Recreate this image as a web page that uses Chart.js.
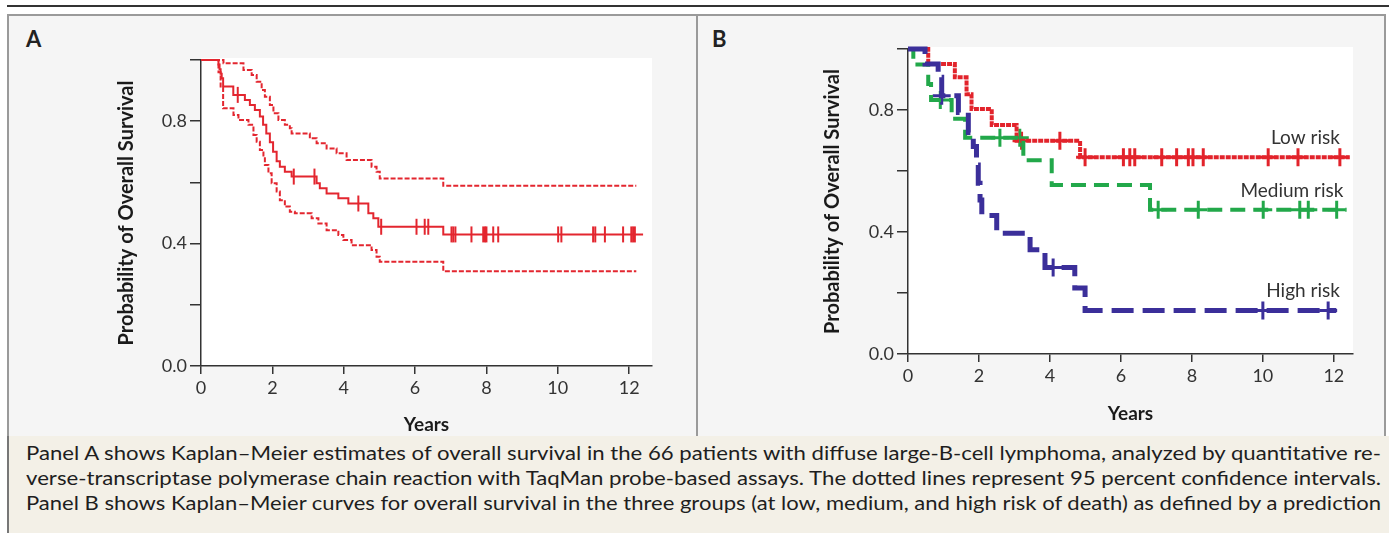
<!DOCTYPE html>
<html>
<head>
<meta charset="utf-8">
<script src="https://cdn.jsdelivr.net/npm/chart.js@4.4.1/dist/chart.umd.min.js"></script>
<style>
body { margin:0; width:1389px; height:533px; overflow:hidden; background:#fff; position:relative; font-family:Lato, sans-serif; }
.abs { position:absolute; }
#rule { left:7px; top:5px; width:1382px; height:2px; background:#333; }
#frame { left:7px; top:14px; width:1379px; height:422px; border:2px solid #9a9a9a; border-bottom:none; background:#f5f5f5; box-sizing:border-box; }
#divider { left:696px; top:14px; width:2px; height:422px; background:#9a9a9a; }
.plab { font-weight:bold; font-size:22px; color:#222; top:25px; }
#caption { left:7px; top:436px; width:1382px; height:97px; background:#f3f0e7; border-left:2px solid #777; box-sizing:border-box; }
.cline { position:absolute; left:17px; white-space:nowrap; font-size:18.5px; color:#1e1e1e; transform-origin:0 50%; line-height:25px; }
</style>
</head>
<body>
<div id="rule" class="abs"></div>
<div id="frame" class="abs"></div>
<div id="divider" class="abs"></div>
<div class="abs plab" style="left:26px">A</div>
<div class="abs plab" style="left:712px">B</div>
<div class="abs" style="left:9px; top:16px; width:687px; height:420px"><canvas id="chartA"></canvas></div>
<div class="abs" style="left:698px; top:16px; width:686px; height:420px"><canvas id="chartB"></canvas></div>
<div id="caption" class="abs">
  <div class="cline" style="top:5px">Panel A shows Kaplan–Meier estimates of overall survival in the 66 patients with diffuse large-B-cell lymphoma, analyzed by quantitative re-</div>
  <div class="cline" style="top:30px">verse-transcriptase polymerase chain reaction with TaqMan probe-based assays. The dotted lines represent 95 percent confidence intervals.</div>
  <div class="cline" style="top:55px">Panel B shows Kaplan–Meier curves for overall survival in the three groups (at low, medium, and high risk of death) as defined by a prediction</div>
</div>
<script>
// axes
var xTicks = [0, 2, 4, 6, 8, 10, 12];
var yTicks = [0, 0.2, 0.4, 0.6, 0.8, 1.0];
var yTickLabels = ['0.0', '', '0.4', '', '0.8', ''];

// panel A - all patients, with 95% CI
var aTimes = [0, 0.49, 0.52, 0.55, 0.58, 0.62, 0.905, 1.23, 1.37, 1.51, 1.65, 1.74, 1.83, 1.93, 2.02, 2.12, 2.21, 2.35, 2.54, 3.24, 3.33, 3.52, 3.85, 4.13, 4.69, 4.83, 4.97, 6.79, 12.39];
var aSurv = [1, 0.985, 0.97, 0.955, 0.94, 0.913, 0.886, 0.869, 0.853, 0.837, 0.815, 0.788, 0.760, 0.731, 0.700, 0.669, 0.651, 0.635, 0.619, 0.597, 0.581, 0.564, 0.548, 0.531, 0.499, 0.483, 0.455, 0.43, 0.43];
var aCensor = [1.03, 2.6, 3.18, 4.41, 5.05, 6.04, 6.27, 6.37, 7.02, 7.07, 7.13, 7.58, 7.91, 7.96, 8.0, 8.19, 8.33, 10.01, 10.1, 10.99, 11.05, 11.32, 11.83, 12.06, 12.11, 12.16];
var aUpperT = [0, 0.63, 1.19, 1.42, 1.56, 1.70, 1.79, 1.93, 2.03, 2.17, 2.35, 2.49, 2.54, 3.05, 3.24, 3.52, 3.80, 4.08, 4.78, 4.92, 5.01, 6.79, 12.2];
var aUpperS = [1, 0.989, 0.967, 0.951, 0.929, 0.902, 0.88, 0.853, 0.826, 0.804, 0.788, 0.777, 0.76, 0.744, 0.728, 0.711, 0.695, 0.673, 0.651, 0.635, 0.613, 0.589, 0.589];
var aLowerT = [0, 0.49, 0.55, 0.62, 0.91, 1.05, 1.33, 1.47, 1.56, 1.65, 1.75, 1.79, 1.89, 1.98, 2.12, 2.21, 2.35, 2.49, 2.63, 3.10, 3.29, 3.52, 3.85, 3.99, 4.22, 4.78, 4.92, 5.01, 6.79, 12.2];
var aLowerS = [1, 0.96, 0.91, 0.842, 0.82, 0.804, 0.788, 0.755, 0.733, 0.706, 0.684, 0.657, 0.63, 0.597, 0.57, 0.542, 0.521, 0.504, 0.499, 0.483, 0.466, 0.444, 0.428, 0.412, 0.395, 0.379, 0.357, 0.341, 0.31, 0.31];

// panel B - risk groups
var groupNames = ['Low risk', 'Medium risk', 'High risk'];
var lowT = [0, 0.57, 1.32, 1.65, 1.79, 2.36, 3.06, 4.85, 12.45];
var lowS = [1, 0.951, 0.907, 0.852, 0.803, 0.751, 0.699, 0.645, 0.645];
var lowCensor = [3.2, 4.28, 4.99, 6.07, 6.25, 6.39, 7.15, 7.57, 7.9, 8.03, 8.32, 10.15, 10.99, 12.17];
var medT = [0, 0.15, 0.57, 0.65, 1.23, 1.61, 3.25, 4.05, 6.82, 12.36];
var medS = [1, 0.949, 0.885, 0.833, 0.771, 0.709, 0.635, 0.554, 0.473, 0.473];
var medCensor = [0.91, 2.59, 3.15, 7.05, 8.18, 10.01, 11.04, 11.28, 12.08];
var highT = [0, 0.48, 0.85, 0.95, 1.42, 1.70, 1.84, 1.93, 1.98, 2.03, 2.08, 2.50, 3.44, 3.86, 4.70, 4.99, 12.07];
var highS = [1, 0.951, 0.907, 0.847, 0.792, 0.726, 0.68, 0.62, 0.56, 0.505, 0.454, 0.396, 0.342, 0.284, 0.216, 0.143, 0.143];
var highCensor = [0.95, 4.09, 10.0, 11.84];

function pts(t, s) {
  return t.map(function (v, i) { return {x: v, y: s[i]}; });
}
// survival value at time tt, for placing censor marks on the curve
function stepAt(t, s, tt) {
  var k = 0;
  for (var i = 0; i < t.length; i++) { if (t[i] <= tt) k = i; }
  return s[k];
}
function censorPts(t, s, c) {
  return c.map(function (v) { return {x: v, y: stepAt(t, s, v)}; });
}

var whiteArea = {
  id: 'whiteArea',
  beforeDraw: function (chart) {
    var a = chart.chartArea, ctx = chart.ctx;
    ctx.save();
    ctx.fillStyle = '#fff';
    ctx.fillRect(a.left, a.top - 2, a.right - a.left, a.bottom - a.top + 2);
    ctx.restore();
  }
};

var curveLabels = {
  id: 'curveLabels',
  afterDatasetsDraw: function (chart, args, opts) {
    if (!opts.items) return;
    var ctx = chart.ctx, x = chart.scales.x, y = chart.scales.y;
    ctx.save();
    ctx.font = '19px Lato';
    ctx.fillStyle = '#333';
    ctx.textAlign = 'right';
    ctx.textBaseline = 'alphabetic';
    opts.items.forEach(function (it) {
      ctx.fillText(it.text, x.getPixelForValue(it.x), y.getPixelForValue(it.y));
    });
    ctx.restore();
  }
};

function axes(o) {
  var tickFont = {family: 'Lato', size: 18};
  var titleFont = {family: 'Lato', size: 20, weight: 'bold'};
  var xTitleFont = {family: 'Lato', size: 19, weight: 'bold'};
  return {
    x: {
      type: 'linear', min: 0, max: o.xMax,
      afterBuildTicks: function (s) { s.ticks = xTicks.map(function (v) { return {value: v}; }); },
      afterFit: function (s) { s.height = o.xHeight; },
      border: {display: true, color: '#333', width: 1.5},
      grid: {drawOnChartArea: false, drawTicks: true, tickLength: 8, color: '#333', lineWidth: 1.5},
      ticks: {font: tickFont, color: '#333', padding: 3, maxRotation: 0,
        callback: function (v) { return String(v); }},
      title: {display: true, text: 'Years', font: xTitleFont, color: '#1a1a1a', padding: {top: 0, bottom: o.xTitlePad}}
    },
    y: {
      min: 0, max: 1,
      afterBuildTicks: function (s) { s.ticks = yTicks.map(function (v) { return {value: v}; }); },
      afterFit: function (s) { s.width = o.yWidth; },
      border: {display: true, color: '#333', width: 1.5},
      grid: {drawOnChartArea: false, drawTicks: true, tickLength: 11, color: '#333', lineWidth: 1.5},
      ticks: {font: tickFont, color: '#333', padding: 3,
        callback: function (v, i) { return yTickLabels[i]; }},
      title: {display: true, text: 'Probability of Overall Survival', font: titleFont, color: '#1a1a1a', padding: {top: o.yTitlePad, bottom: 0}}
    }
  };
}

function stepSet(t, s, color, width, dash) {
  return {data: pts(t, s), borderColor: color, borderWidth: width, borderDash: dash,
    stepped: true, pointRadius: 0, fill: false, clip: false};
}
function censorSet(t, s, c, color, style, r, width) {
  return {data: censorPts(t, s, c), showLine: false, pointStyle: style, rotation: style === 'line' ? 90 : 0,
    pointRadius: r, pointBorderColor: color, pointBorderWidth: width, borderColor: color, clip: false};
}

var redA = '#e3262f';
new Chart(document.getElementById('chartA'), {
  type: 'line',
  data: {datasets: [
    stepSet(aUpperT, aUpperS, redA, 2, [5, 2]),
    stepSet(aLowerT, aLowerS, redA, 2, [5, 2]),
    stepSet(aTimes, aSurv, redA, 2, []),
    censorSet(aTimes, aSurv, aCensor, redA, 'line', 8, 2)
  ]},
  options: {
    responsive: true, maintainAspectRatio: false, animation: false,
    layout: {padding: {left: 0, right: 44, top: 44, bottom: 0}},
    plugins: {legend: {display: false}, tooltip: {enabled: false}},
    scales: axes({xMax: 12.64, xHeight: 70, yWidth: 192, xTitlePad: 0, yTitlePad: 106})
  },
  plugins: [whiteArea]
});

var red = '#e2232b', green = '#22a84a', blue = '#3b2f9a';
new Chart(document.getElementById('chartB'), {
  type: 'line',
  data: {datasets: [
    stepSet(highT, highS, blue, 5, [22, 9]),
    stepSet(medT, medS, green, 4, [15, 8]),
    stepSet(lowT, lowS, red, 4, [5, 1]),
    censorSet(highT, highS, highCensor, blue, 'cross', 9, 3),
    censorSet(medT, medS, medCensor, green, 'cross', 9, 3),
    censorSet(lowT, lowS, lowCensor, red, 'cross', 9, 3)
  ]},
  options: {
    responsive: true, maintainAspectRatio: false, animation: false,
    layout: {padding: {left: 0, right: 31, top: 33, bottom: 0}},
    plugins: {legend: {display: false}, tooltip: {enabled: false},
      curveLabels: {items: [
        {text: groupNames[0], x: 12.17, y: 0.69},
        {text: groupNames[1], x: 12.27, y: 0.515},
        {text: groupNames[2], x: 12.17, y: 0.187}
      ]}},
    scales: axes({xMax: 12.54, xHeight: 82, yWidth: 210, xTitlePad: 10.6, yTitlePad: 123})
  },
  plugins: [whiteArea, curveLabels]
});

// stretch each caption line to the justified width
document.querySelectorAll('.cline').forEach(function (el) {
  var w = el.getBoundingClientRect().width;
  el.style.transform = 'scaleX(' + (1355 / w) + ')';
});
</script>
</body>
</html>
